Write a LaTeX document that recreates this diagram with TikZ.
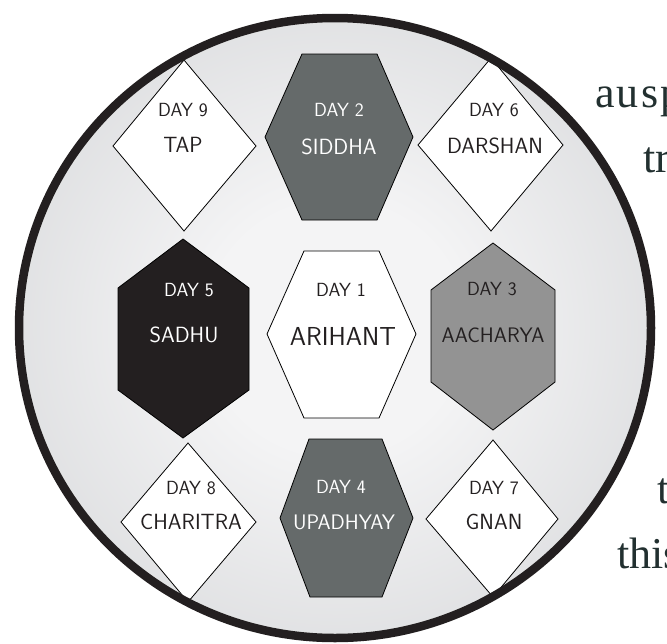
\documentclass[tikz,border=0pt]{standalone}
\usepackage{fontspec}
\newfontfamily\sideserif{Liberation Serif}
\definecolor{gcenter}{HTML}{F4F4F5}
\definecolor{gedge}{HTML}{C2C4C7}
\definecolor{rimcol}{HTML}{231F20}
\definecolor{darkhex}{HTML}{656A6A}
\definecolor{blackhex}{HTML}{231F20}
\definecolor{midhex}{HTML}{939393}
\definecolor{inkcol}{HTML}{231F20}
\definecolor{sidecol}{HTML}{223030}
\pgfdeclareradialshading{discshade}{\pgfpoint{0bp}{0bp}}{color(0bp)=(gcenter); color(10bp)=(gcenter); color(50bp)=(gedge)}
\tikzset{
  shapeline/.style={draw=black, line width=0.8pt, line join=miter},
  daylbl/.style={font=\sffamily\fontsize{19}{19}\selectfont, inner sep=0pt, text=inkcol},
  namelbl/.style={font=\sffamily\fontsize{22}{22}\selectfont, inner sep=0pt, text=inkcol},
  sidetext/.style={font=\sideserif\fontsize{44}{44}\selectfont, text=sidecol, anchor=base west, inner sep=0pt},
}
\begin{document}
\begin{tikzpicture}[x=1pt,y=-1pt]
\useasboundingbox (0,0) rectangle (667,643);
\clip (0,0) rectangle (667,643);
\fill[white] (0,0) rectangle (667,643);
% disc
\shade[shading=discshade] (335,328) ellipse [x radius=318pt, y radius=312pt];
% diamonds
\filldraw[shapeline, fill=white] (184,60) -- (256,146) -- (184,231) -- (113,146) -- cycle;
\filldraw[shapeline, fill=white] (491,58) -- (563,145) -- (491,231) -- (418,145) -- cycle;
\filldraw[shapeline, fill=white] (188,443) -- (256,522) -- (188,602) -- (121,522) -- cycle;
\filldraw[shapeline, fill=white] (493,440) -- (558,519) -- (493,597) -- (426,519) -- cycle;
% flat-top hexagons
\filldraw[shapeline, fill=darkhex] (302,54) -- (377,54) -- (413,137) -- (377,220) -- (302,220) -- (265,137) -- cycle;
\filldraw[shapeline, fill=white] (304,251) -- (379,251) -- (416,334) -- (379,418) -- (304,418) -- (267,334) -- cycle;
\filldraw[shapeline, fill=darkhex] (309,439) -- (382,439) -- (413,518) -- (382,597) -- (310,597) -- (280,518) -- cycle;
% pointy-top hexagons
\filldraw[shapeline, fill=blackhex] (183,239) -- (249,288) -- (249,390) -- (183,438) -- (118,390) -- (118,288) -- cycle;
\filldraw[shapeline, fill=midhex] (493,243) -- (555,290) -- (555,382) -- (493,430) -- (431,382) -- (431,290) -- cycle;
% rim
\draw[line width=8.5pt, rimcol] (335,328) ellipse [x radius=316pt, y radius=310pt];
% labels
\node[daylbl] (d9) at (183,110) {DAY 9};
\node[namelbl] (n9) at (183,145) {TAP};
\node[daylbl, text=white] (d2) at (339,110) {DAY 2};
\node[namelbl, text=white] (n2) at (339,147) {SIDDHA};
\node[daylbl] (d6) at (494,110) {DAY 6};
\node[namelbl] (n6) at (495,146) {DARSHAN};
\node[daylbl, text=white] (d5) at (189,290) {DAY 5};
\node[namelbl, text=white] (n5) at (184,335) {SADHU};
\node[daylbl] (d1) at (341,290) {DAY 1};
\node[namelbl, font=\sffamily\fontsize{26}{26}\selectfont] (n1) at (343,336) {ARIHANT};
\node[daylbl] (d3) at (492,289) {DAY 3};
\node[namelbl, font=\sffamily\fontsize{21}{21}\selectfont] (n3) at (493,335) {AACHARYA};
\node[daylbl] (d8) at (191,488) {DAY 8};
\node[namelbl] (n8) at (191,522) {CHARITRA};
\node[daylbl, text=white] (d4) at (341,487) {DAY 4};
\node[namelbl, font=\sffamily\fontsize{21}{21}\selectfont, text=white] (n4) at (344,522) {UPADHYAY};
\node[daylbl] (d7) at (494,488) {DAY 7};
\node[namelbl] (n7) at (494,522) {GNAN};
% side text, cut by the page edge as in the reference
\node[sidetext] (s1) at (595,107) {\addfontfeature{LetterSpace=5}ausp};
\node[sidetext] (s2) at (643,172) {tr};
\node[sidetext] (s3) at (657,503) {t};
\node[sidetext] (s4) at (617,568) {this};
\end{tikzpicture}
\end{document}
